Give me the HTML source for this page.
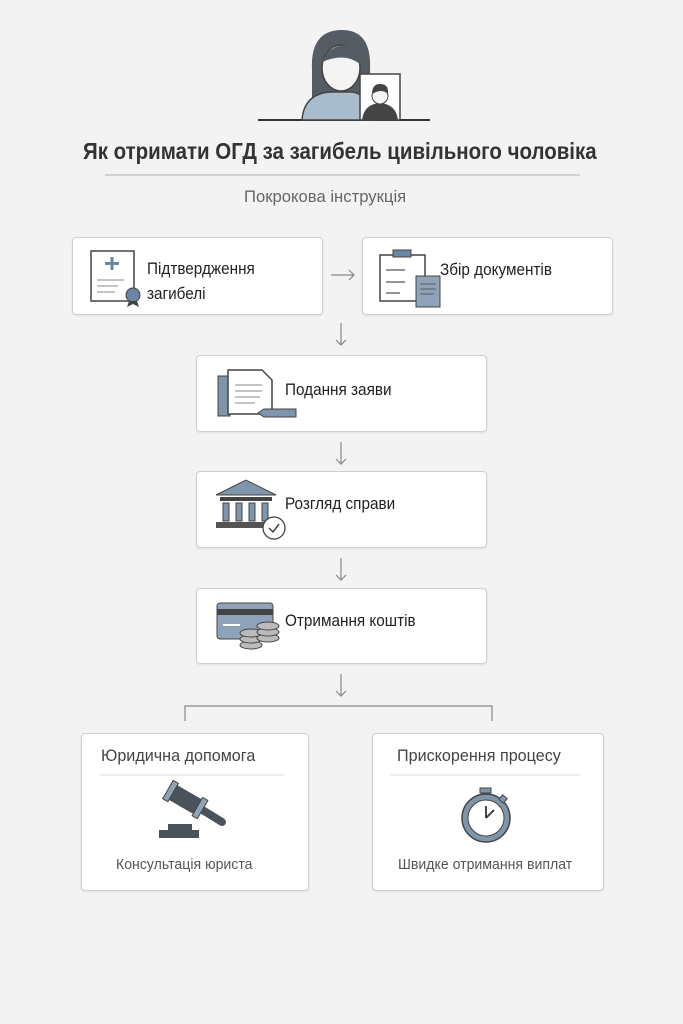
<!DOCTYPE html>
<html><head><meta charset="utf-8"><style>
body{margin:0;width:683px;height:1024px;background:#f3f3f3;font-family:"Liberation Sans","DejaVu Sans",sans-serif;position:relative;overflow:hidden;color:#333}
.box{position:absolute;background:#fff;border:1px solid #cfcfcf;border-radius:4px;box-shadow:0 1px 2px rgba(0,0,0,.08)}
.t{position:absolute;white-space:nowrap;transform-origin:0 50%}
svg{position:absolute;left:0;top:0}
</style></head><body>
<svg width="683" height="1024" viewBox="0 0 683 1024">
<line x1="258" y1="120" x2="430" y2="120" stroke="#333" stroke-width="2"/>
<path d="M312 70 Q310 30 342 30 Q372 30 370 70 L372 100 L312 100 Z" fill="#555c63"/>
<path d="M302 120 Q304 94 330 92 L352 92 Q370 94 372 120 Z" fill="#a9bccb" stroke="#444" stroke-width="1.5"/>
<ellipse cx="341" cy="68" rx="19" ry="23" fill="#f4f4f4" stroke="#444" stroke-width="1.5"/>
<path d="M322 62 Q330 42 352 46 Q360 54 360 64 Q345 52 322 62Z" fill="#555c63"/>
<rect x="360" y="74" width="40" height="46" fill="#fff" stroke="#444" stroke-width="1.5"/>
<path d="M362 120 Q364 104 380 103 Q396 104 398 120Z" fill="#444"/>
<circle cx="380" cy="96" r="8" fill="#f4f4f4" stroke="#444"/>
<path d="M372 94 Q372 84 380 84 Q389 84 388 94 Q382 88 372 94Z" fill="#444"/>
<line x1="105" y1="175" x2="580" y2="175" stroke="#c8c8c8" stroke-width="1.5"/>
<g stroke="#888" stroke-width="1.2" fill="none">
<path d="M331 275 H354 M349 270 L354 275 L349 280"/>
<path d="M341 323 V345 M336 340 L341 345 L346 340"/>
<path d="M341 442 V464 M336 459 L341 464 L346 459"/>
<path d="M341 558 V580 M336 575 L341 580 L346 575"/>
<path d="M341 674 V696 M336 691 L341 696 L346 691"/>
<path d="M185 721 V706 H492 V721"/>
</g>
</svg>
<div class="t" style="left:83px;top:138px;font-size:23px;font-weight:bold;color:#333;transform:scaleX(0.89)">Як отримати ОГД за загибель цивільного чоловіка</div>
<div class="t" style="left:244px;top:187px;font-size:17px;color:#666;transform:scaleX(.98)">Покрокова інструкція</div>

<div class="box" style="left:72px;top:237px;width:249px;height:76px"></div>
<div class="box" style="left:362px;top:237px;width:249px;height:76px"></div>
<div class="box" style="left:196px;top:355px;width:289px;height:75px"></div>
<div class="box" style="left:196px;top:471px;width:289px;height:75px"></div>
<div class="box" style="left:196px;top:588px;width:289px;height:74px"></div>
<div class="box" style="left:81px;top:733px;width:226px;height:156px"></div>
<div class="box" style="left:372px;top:733px;width:230px;height:156px"></div>

<svg width="683" height="1024" viewBox="0 0 683 1024">
<rect x="91" y="251" width="43" height="50" fill="#fff" stroke="#444" stroke-width="1.5"/>
<path d="M112 257 V270 M105 263.5 H119" stroke="#6a86a3" stroke-width="3"/>
<path d="M97 280 H124 M97 286 H118 M97 292 H115" stroke="#888"/>
<circle cx="133" cy="295" r="7" fill="#6a86a3" stroke="#444"/>
<path d="M129 301 L127 307 L133 304 L139 307 L137 301" fill="#444"/>
<rect x="380" y="255" width="45" height="46" fill="#fff" stroke="#444" stroke-width="1.5"/>
<rect x="393" y="250" width="18" height="7" fill="#6a86a3" stroke="#444"/>
<path d="M386 270 H405 M386 282 H405 M386 293 H400" stroke="#555" stroke-width="1.2"/>
<rect x="416" y="276" width="24" height="31" fill="#8ea3b8" stroke="#444"/>
<path d="M420 284 H436 M420 289 H436 M420 294 H434" stroke="#444" stroke-width=".8"/>
<rect x="218" y="376" width="12" height="40" fill="#7e95ab" stroke="#444"/>
<path d="M228 370 H262 L272 380 V414 H228Z" fill="#fff" stroke="#444" stroke-width="1.5"/>
<path d="M235 385 H262 M235 391 H262 M235 397 H260 M235 403 H255" stroke="#888"/>
<path d="M258 413 L264 409 H296 V417 H264Z" fill="#7e95ab" stroke="#444"/>
<path d="M216 495 L246 480 L276 495Z" fill="#7e95ab" stroke="#444"/>
<rect x="220" y="497" width="52" height="4" fill="#444"/>
<rect x="223" y="503" width="6" height="18" fill="#7e95ab" stroke="#444"/>
<rect x="236" y="503" width="6" height="18" fill="#7e95ab" stroke="#444"/>
<rect x="249" y="503" width="6" height="18" fill="#7e95ab" stroke="#444"/>
<rect x="262" y="503" width="6" height="18" fill="#7e95ab" stroke="#444"/>
<rect x="216" y="522" width="58" height="6" fill="#555"/>
<circle cx="274" cy="528" r="11" fill="#fff" stroke="#444" stroke-width="1.3"/>
<path d="M269 528 L273 532 L279 524" stroke="#444" fill="none" stroke-width="1.5"/>
<rect x="217" y="603" width="56" height="36" rx="3" fill="#8ea3b8" stroke="#444"/>
<rect x="217" y="609" width="56" height="6" fill="#444"/>
<path d="M223 625 H240" stroke="#fff" stroke-width="2"/>
<g fill="#bbb" stroke="#444"><ellipse cx="251" cy="645" rx="11" ry="4"/><ellipse cx="251" cy="639" rx="11" ry="4"/><ellipse cx="251" cy="633" rx="11" ry="4"/><ellipse cx="268" cy="638" rx="11" ry="4"/><ellipse cx="268" cy="632" rx="11" ry="4"/><ellipse cx="268" cy="626" rx="11" ry="4"/></g>
<line x1="100" y1="775" x2="284" y2="775" stroke="#ddd"/>
<line x1="390" y1="775" x2="580" y2="775" stroke="#ddd"/>
<path d="M196 806 L222 822" stroke="#4a535c" stroke-width="8" stroke-linecap="round"/>
<g transform="rotate(30 185 800)"><rect x="168" y="791" width="34" height="17" fill="#4a535c"/><rect x="165" y="789" width="6" height="21" fill="#8ea3b8" stroke="#444"/><rect x="199" y="789" width="6" height="21" fill="#8ea3b8" stroke="#444"/></g>
<rect x="168" y="824" width="24" height="6" fill="#4a535c"/>
<rect x="159" y="830" width="40" height="8" fill="#4a535c"/>
<rect x="480" y="788" width="11" height="5" fill="#7e95ab" stroke="#444"/>
<circle cx="486" cy="818" r="24" fill="#7e95ab" stroke="#444" stroke-width="1.5"/>
<circle cx="486" cy="818" r="18" fill="#fff" stroke="#444"/>
<path d="M486 818 V806 M486 818 L494 810" stroke="#333" stroke-width="1.8"/>
<rect x="500" y="796" width="6" height="6" fill="#7e95ab" stroke="#444" transform="rotate(40 503 799)"/>
</svg>

<div class="t" style="left:147px;top:256px;font-size:17px;line-height:25px;color:#222;transform:scaleX(.9)">Підтвердження<br>загибелі</div>
<div class="t" style="left:440px;top:260px;font-size:17px;color:#222;transform:scaleX(.9)">Збір документів</div>
<div class="t" style="left:285px;top:380px;font-size:17px;color:#222;transform:scaleX(.9)">Подання заяви</div>
<div class="t" style="left:285px;top:494px;font-size:17px;color:#222;transform:scaleX(.9)">Розгляд справи</div>
<div class="t" style="left:285px;top:611px;font-size:17px;color:#222;transform:scaleX(.9)">Отримання коштів</div>
<div class="t" style="left:101px;top:746px;font-size:17px;color:#444;transform:scaleX(.95)">Юридична допомога</div>
<div class="t" style="left:397px;top:746px;font-size:17px;color:#444;transform:scaleX(.95)">Прискорення процесу</div>
<div class="t" style="left:116px;top:856px;font-size:15px;color:#555;transform:scaleX(.94)">Консультація юриста</div>
<div class="t" style="left:398px;top:856px;font-size:15px;color:#555;transform:scaleX(.94)">Швидке отримання виплат</div>
</body></html>
